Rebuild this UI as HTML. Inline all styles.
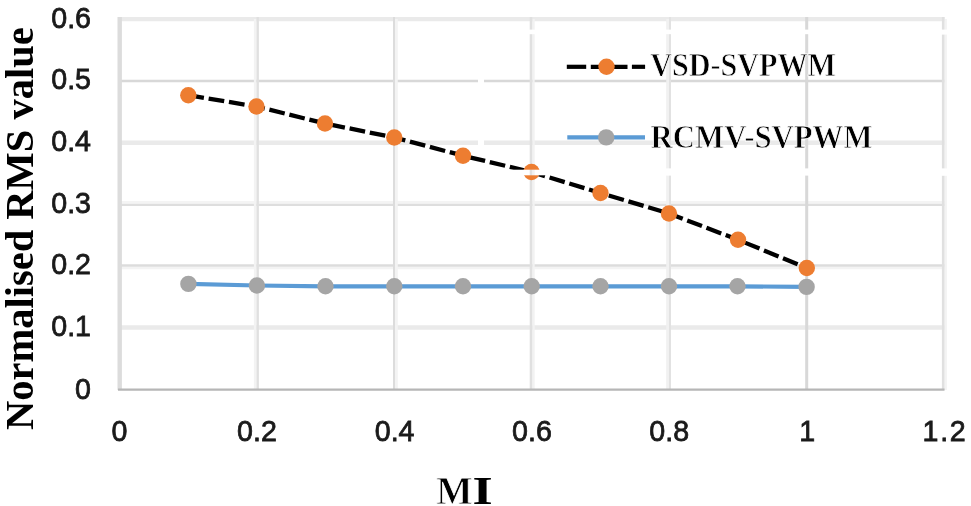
<!DOCTYPE html>
<html><head><meta charset="utf-8">
<style>
html,body{margin:0;padding:0;background:#fff;}
body{width:971px;height:506px;overflow:hidden;position:relative;}
svg{position:absolute;left:0;top:0;display:block;filter:blur(0.45px);}
.tk{font-family:"Liberation Sans",sans-serif;font-size:29.5px;fill:#1a1a1a;stroke:#1a1a1a;stroke-width:0.8px;}
.ttl{font-family:"Liberation Serif",serif;font-weight:bold;fill:#000;}
.lg{stroke:#fff;stroke-width:0.8px;}
</style></head><body>
<svg width="971" height="506" viewBox="0 0 971 506">
<g fill="none">
<line x1="120" y1="19.1" x2="944.5" y2="19.1" stroke="#eaeaea" stroke-width="4.4"/>
<line x1="120" y1="81.0" x2="944.5" y2="81.0" stroke="#d8d8d8" stroke-width="2.6"/>
<line x1="120" y1="142.8" x2="944.5" y2="142.8" stroke="#eaeaea" stroke-width="4.4"/>
<line x1="120" y1="202.4" x2="944.5" y2="202.4" stroke="#f4f4f4" stroke-width="2.8"/>
<line x1="120" y1="204.9" x2="944.5" y2="204.9" stroke="#dedede" stroke-width="2.2"/>
<line x1="120" y1="268.0" x2="944.5" y2="268.0" stroke="#f3f3f3" stroke-width="2.4"/>
<line x1="120" y1="265.5" x2="944.5" y2="265.5" stroke="#dcdcdc" stroke-width="2.4"/>
<line x1="120" y1="327.5" x2="944.5" y2="327.5" stroke="#eaeaea" stroke-width="4.4"/>
<line x1="119.7" y1="17.1" x2="119.7" y2="390" stroke="#dcdcdc" stroke-width="4.4"/>
<line x1="255.2" y1="19.1" x2="255.2" y2="390" stroke="#f3f3f3" stroke-width="2.6"/>
<line x1="257.7" y1="17.1" x2="257.7" y2="390" stroke="#e0e0e0" stroke-width="2.4"/>
<line x1="396.4" y1="19.1" x2="396.4" y2="390" stroke="#f3f3f3" stroke-width="2.8"/>
<line x1="394.0" y1="17.1" x2="394.0" y2="390" stroke="#dcdcdc" stroke-width="2.0"/>
<line x1="533.5" y1="19.1" x2="533.5" y2="390" stroke="#f2f2f2" stroke-width="2.4"/>
<line x1="531.0" y1="17.1" x2="531.0" y2="390" stroke="#e0e0e0" stroke-width="2.6"/>
<line x1="667.6" y1="19.1" x2="667.6" y2="390" stroke="#f1f1f1" stroke-width="2.8"/>
<line x1="670.0" y1="17.1" x2="670.0" y2="390" stroke="#e2e2e2" stroke-width="2.0"/>
<line x1="806.7" y1="17.1" x2="806.7" y2="390" stroke="#d8d8d8" stroke-width="3.0"/>
<line x1="945.7" y1="19.1" x2="945.7" y2="390" stroke="#f3f3f3" stroke-width="2.4"/>
<line x1="943.2" y1="17.1" x2="943.2" y2="390" stroke="#e0e0e0" stroke-width="2.6"/>
</g>
<!-- gaps in gridlines (source artifacts) -->
<g fill="#fff">
<rect x="525" y="29.6" width="12" height="4.6"/>
<rect x="663" y="29.6" width="12" height="4.6"/>
<rect x="801" y="29.6" width="12" height="4.6"/>
<rect x="938" y="29.6" width="12" height="5"/>
<rect x="663" y="168.4" width="12" height="7.2"/>
<rect x="801" y="168.4" width="12" height="7.2"/>
<rect x="938" y="168.4" width="12" height="7.4"/>
<rect x="478" y="138" width="6" height="9"/>
<rect x="478" y="77" width="6" height="9"/>
</g>
<!-- x axis -->
<line x1="118" y1="389.6" x2="944.5" y2="389.6" stroke="#b6b6b6" stroke-width="2.4"/>

<!-- y tick labels -->
<g class="tk" text-anchor="end"><text transform="translate(91,27.5) scale(0.97,1)">0.6</text><text transform="translate(91,89.3) scale(0.97,1)">0.5</text><text transform="translate(91,151) scale(0.97,1)">0.4</text><text transform="translate(91,212.7) scale(0.97,1)">0.3</text><text transform="translate(91,274.4) scale(0.97,1)">0.2</text><text transform="translate(91,336) scale(0.97,1)">0.1</text><text transform="translate(91,398.7) scale(0.97,1)">0</text></g>
<!-- x tick labels -->
<g class="tk" text-anchor="middle"><text transform="translate(119.5,440.5) scale(0.97,1)">0</text><text transform="translate(257,440.5) scale(0.97,1)">0.2</text><text transform="translate(394.6,440.5) scale(0.97,1)">0.4</text><text transform="translate(531.9,440.5) scale(0.97,1)">0.6</text><text transform="translate(669.2,440.5) scale(0.97,1)">0.8</text><text transform="translate(807.2,440.5) scale(0.97,1)">1</text><text transform="translate(945,440.5) scale(0.97,1)" letter-spacing="1.8">1.2</text></g>

<!-- RCMV series -->
<polyline points="188.4,283.9 256.9,285.5 325.5,286.3 394.3,286.3 463,286.3 531.7,286.3 600.5,286.3 669,286.3 737.5,286.3 806.6,286.9" fill="none" stroke="#5b9bd5" stroke-width="4.2"/>
<g fill="#a5a5a5">
<circle cx="188.4" cy="283.9" r="8.2"/>
<circle cx="256.9" cy="285.5" r="8.2"/>
<circle cx="325.5" cy="286.3" r="8.2"/>
<circle cx="394.3" cy="286.3" r="8.2"/>
<circle cx="463" cy="286.3" r="8.2"/>
<circle cx="531.7" cy="286.3" r="8.2"/>
<circle cx="600.5" cy="286.3" r="8.2"/>
<circle cx="669" cy="286.3" r="8.2"/>
<circle cx="737.5" cy="286.3" r="8.2"/>
<circle cx="806.6" cy="286.9" r="8.2"/>
</g>

<!-- VSD series -->
<defs><mask id="tear" maskUnits="userSpaceOnUse" x="0" y="0" width="971" height="506"><rect x="0" y="0" width="971" height="506" fill="#fff"/><rect x="505" y="169.7" width="45" height="5.6" fill="#000"/></mask></defs>
<g mask="url(#tear)">
<polyline points="188.3,95.2 256.5,106.5 325,123.5 394.3,137.5 463,155.7 531.5,172 600.5,193 669,213.5 738,239.8 806.8,268" fill="none" stroke="#000" stroke-width="4.3" stroke-dasharray="15.8 4.8"/>
<g fill="#ed7d31">
<circle cx="188.3" cy="95.2" r="8.2"/>
<circle cx="256.5" cy="106.5" r="8.2"/>
<circle cx="325" cy="123.5" r="8.2"/>
<circle cx="394.3" cy="137.5" r="8.2"/>
<circle cx="463" cy="155.7" r="8.2"/>
<circle cx="531.5" cy="172" r="8.2"/>
<circle cx="600.5" cy="193" r="8.2"/>
<circle cx="669" cy="213.5" r="8.2"/>
<circle cx="738" cy="239.8" r="8.2"/>
<circle cx="806.8" cy="268" r="8.2"/>
</g>
</g>

<!-- legend -->
<g stroke="#000" stroke-width="4.2">
<line x1="566.8" y1="66.8" x2="586.2" y2="66.8"/>
<line x1="590.8" y1="66.8" x2="627.5" y2="66.8"/>
<line x1="631.9" y1="66.8" x2="645.1" y2="66.8"/>
</g>
<circle cx="606.5" cy="66.8" r="8.2" fill="#ed7d31"/>
<line x1="567.3" y1="137.4" x2="645" y2="137.4" stroke="#5b9bd5" stroke-width="4.2"/>
<circle cx="606.2" cy="137.4" r="8.2" fill="#a5a5a5"/>
<text class="ttl lg" transform="translate(650.2,76.4) scale(0.9,1)" font-size="33.5">VSD-SVPWM</text>
<text class="ttl lg" transform="translate(650.6,147.8) scale(0.92,1)" font-size="33.5">RCMV-SVPWM</text>

<!-- axis titles -->
<text class="ttl lg" transform="translate(436.2,504) scale(0.95,1)" font-size="40.5">M</text><text class="ttl" transform="translate(472.6,504) scale(1.28,1)" font-size="40.5">I</text>
<text class="ttl" font-size="40.5" transform="translate(32.5,430) rotate(-90)">Normalised RMS value</text>
</svg>
</body></html>
